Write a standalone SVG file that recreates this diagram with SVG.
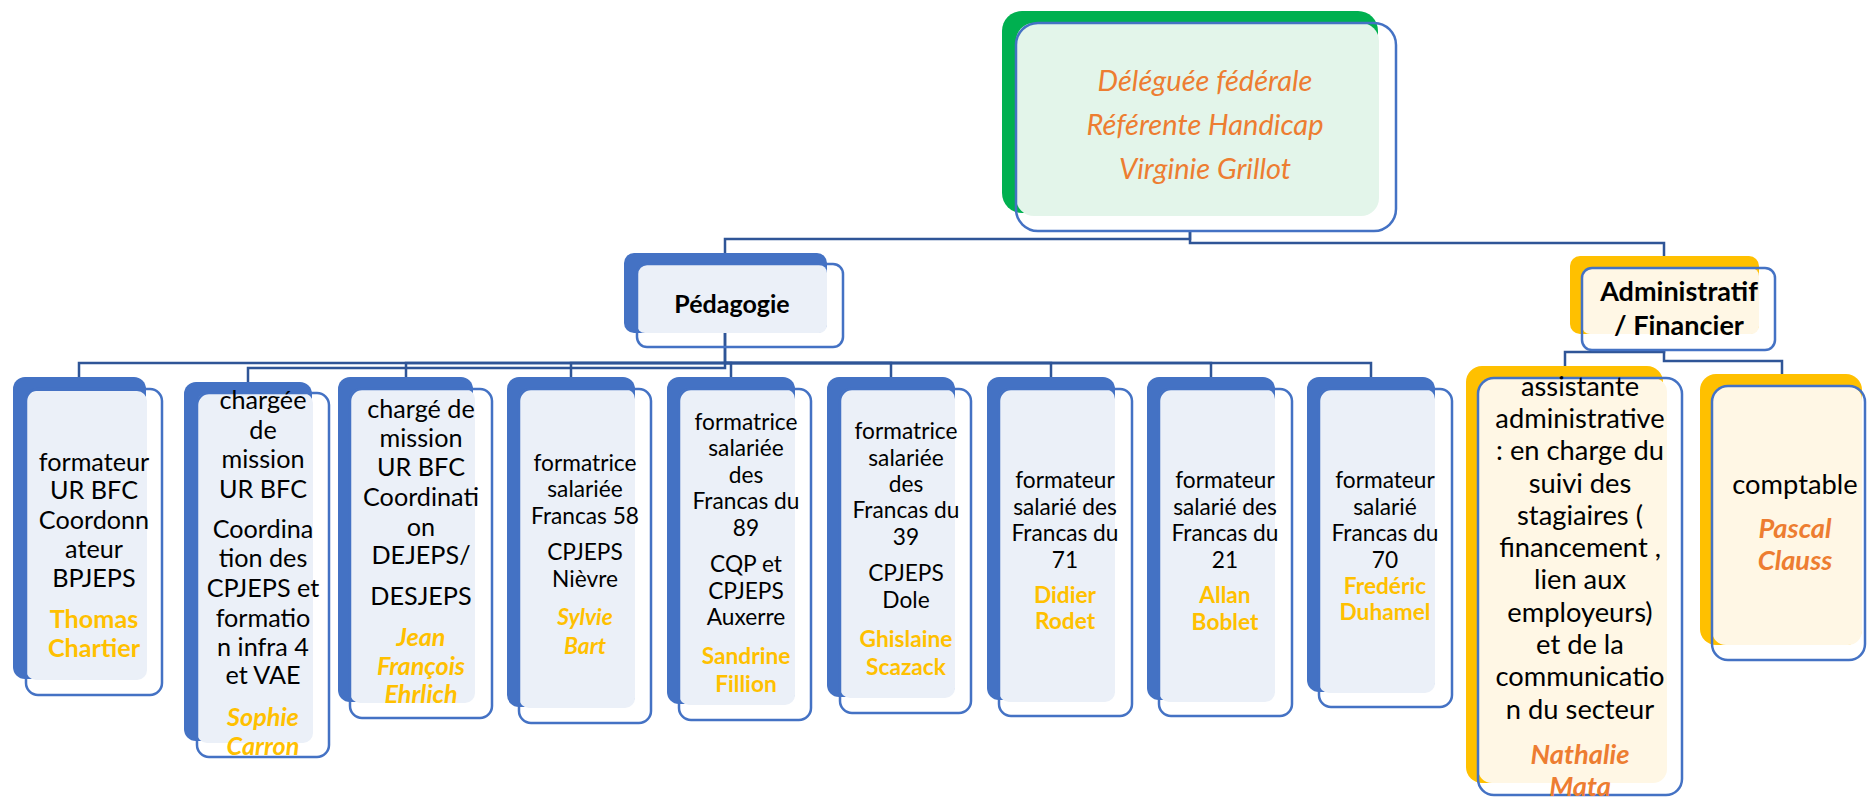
<svg xmlns="http://www.w3.org/2000/svg" width="1867" height="797" viewBox="0 0 1867 797">
<style>
.bl{fill:#4472C4}
.gr{fill:#00B050}
.ye{fill:#FFC000}
.fb{fill:#EBF0F8}
.fg{fill:#E3F5EA}
.fy{fill:#FFF7E5}
.ol{fill:none;stroke:#4472C4;stroke-width:2.5}
.cn{fill:none;stroke:#2F5597;stroke-width:2.5}
text{font-family:Lato,"Noto Sans",sans-serif;text-anchor:middle}
.t{fill:#000;font-size:25.2px}
.s{fill:#000;font-size:22.7px}
.a{fill:#000;font-size:27.3px}
.h{fill:#000;font-size:25px;font-weight:bold}
.h2{fill:#000;font-size:27px;font-weight:bold}
.top{fill:#ED7D31;font-size:29px;font-style:italic}
.ny{fill:#FFC000;font-weight:bold}
.nyi{fill:#FFC000;font-weight:bold;font-style:italic}
.no{fill:#ED7D31;font-weight:bold;font-style:italic}
</style>
<g id="connectors">
<path class="cn" d="M1190,231 V239 H725 V253"/>
<path class="cn" d="M1190,231 V243 H1664 V256"/>
<path class="cn" d="M725,333 V363 H79 V377"/>
<path class="cn" d="M725,333 V368 H248 V382"/>
<path class="cn" d="M725,363 H406 V377"/>
<path class="cn" d="M725,363 H571 V377"/>
<path class="cn" d="M725,363 H731 V377"/>
<path class="cn" d="M725,363 H891 V377"/>
<path class="cn" d="M725,363 H1051 V377"/>
<path class="cn" d="M725,363 H1211 V377"/>
<path class="cn" d="M725,363 H1371 V377"/>
<path class="cn" d="M1664,350 V352 H1565 V366"/>
<path class="cn" d="M1664,350 V361 H1782 V374"/>
</g>
<g id="n-top">
<rect class="gr" x="1002" y="11" width="376" height="202" rx="20"/>
<rect class="fg" x="1016" y="23" width="363" height="193" rx="18"/>
<rect class="ol" x="1016" y="23" width="380" height="208" rx="22"/>
<text class="top"><tspan x="1205" y="91">Déléguée fédérale</tspan><tspan x="1205" y="135">Référente Handicap</tspan><tspan x="1205" y="179">Virginie Grillot</tspan></text>
</g>
<g id="n-pedagogie">
<rect class="bl" x="624" y="253" width="203" height="80" rx="10"/>
<rect class="fb" x="637" y="265" width="190" height="68" rx="8"/>
<rect class="ol" x="637" y="264" width="206" height="83" rx="10"/>
<text class="h"><tspan x="732" y="313">Pédagogie</tspan></text>
</g>
<g id="n-admin">
<rect class="ye" x="1570" y="256" width="189" height="78" rx="10"/>
<rect class="fy" x="1582" y="268" width="177" height="66" rx="8"/>
<rect class="ol" x="1582" y="268" width="193" height="82" rx="10"/>
<text class="h2"><tspan x="1679" y="301">Administratif</tspan><tspan x="1679" y="335">/ Financier</tspan></text>
</g>
<g id="n-thomas">
<rect class="bl" x="13" y="377" width="133" height="302" rx="12"/>
<rect class="fb" x="26" y="391" width="121" height="289" rx="10"/>
<rect class="ol" x="26" y="389" width="136" height="306" rx="12"/>
<text class="t"><tspan x="94" y="471">formateur</tspan><tspan x="94" y="499">UR BFC</tspan><tspan x="94" y="529">Coordonn</tspan><tspan x="94" y="558">ateur</tspan><tspan x="94" y="587">BPJEPS</tspan><tspan class="ny" x="94" y="628">Thomas</tspan><tspan class="ny" x="94" y="657">Chartier</tspan></text>
</g>
<g id="n-sophie">
<rect class="bl" x="184" y="382" width="128" height="359" rx="12"/>
<rect class="fb" x="197" y="393" width="116" height="350" rx="10"/>
<rect class="ol" x="197" y="393" width="132" height="364" rx="12"/>
<text class="t"><tspan x="263" y="409">chargée</tspan><tspan x="263" y="439">de</tspan><tspan x="263" y="468">mission</tspan><tspan x="263" y="498">UR BFC</tspan><tspan x="263" y="538">Coordina</tspan><tspan x="263" y="567">tion des</tspan><tspan x="263" y="597">CPJEPS et</tspan><tspan x="263" y="627">formatio</tspan><tspan x="263" y="656">n infra 4</tspan><tspan x="263" y="684">et VAE</tspan><tspan class="nyi" x="263" y="726">Sophie</tspan><tspan class="nyi" x="263" y="755">Carron</tspan></text>
</g>
<g id="n-jean">
<rect class="bl" x="338" y="377" width="135" height="325" rx="12"/>
<rect class="fb" x="350" y="389" width="125" height="314" rx="10"/>
<rect class="ol" x="350" y="389" width="142" height="329" rx="12"/>
<text class="t"><tspan x="421" y="418">chargé de</tspan><tspan x="421" y="447">mission</tspan><tspan x="421" y="476">UR BFC</tspan><tspan x="421" y="506">Coordinati</tspan><tspan x="421" y="536">on</tspan><tspan x="421" y="564">DEJEPS/</tspan><tspan x="421" y="605">DESJEPS</tspan><tspan class="nyi" x="421" y="646">Jean</tspan><tspan class="nyi" x="421" y="675">François</tspan><tspan class="nyi" x="421" y="703">Ehrlich</tspan></text>
</g>
<g id="n-sylvie">
<rect class="bl" x="507" y="377" width="128" height="330" rx="12"/>
<rect class="fb" x="519" y="389" width="116" height="319" rx="10"/>
<rect class="ol" x="519" y="389" width="132" height="334" rx="12"/>
<text class="s"><tspan x="585" y="471">formatrice</tspan><tspan x="585" y="497">salariée</tspan><tspan x="585" y="524">Francas 58</tspan><tspan x="585" y="560">CPJEPS</tspan><tspan x="585" y="587">Nièvre</tspan><tspan class="nyi" x="585" y="625">Sylvie</tspan><tspan class="nyi" x="585" y="654">Bart</tspan></text>
</g>
<g id="n-sandrine">
<rect class="bl" x="667" y="377" width="128" height="327" rx="12"/>
<rect class="fb" x="679" y="389" width="116" height="316" rx="10"/>
<rect class="ol" x="679" y="389" width="132" height="331" rx="12"/>
<text class="s"><tspan x="746" y="430">formatrice</tspan><tspan x="746" y="456">salariée</tspan><tspan x="746" y="483">des</tspan><tspan x="746" y="509">Francas du</tspan><tspan x="746" y="536">89</tspan><tspan x="746" y="572">CQP et</tspan><tspan x="746" y="599">CPJEPS</tspan><tspan x="746" y="625">Auxerre</tspan><tspan class="ny" x="746" y="664">Sandrine</tspan><tspan class="ny" x="746" y="692">Fillion</tspan></text>
</g>
<g id="n-ghislaine">
<rect class="bl" x="827" y="377" width="128" height="320" rx="12"/>
<rect class="fb" x="840" y="389" width="115" height="309" rx="10"/>
<rect class="ol" x="840" y="389" width="131" height="324" rx="12"/>
<text class="s"><tspan x="906" y="439">formatrice</tspan><tspan x="906" y="466">salariée</tspan><tspan x="906" y="492">des</tspan><tspan x="906" y="518">Francas du</tspan><tspan x="906" y="545">39</tspan><tspan x="906" y="581">CPJEPS</tspan><tspan x="906" y="608">Dole</tspan><tspan class="ny" x="906" y="647">Ghislaine</tspan><tspan class="ny" x="906" y="675">Scazack</tspan></text>
</g>
<g id="n-didier">
<rect class="bl" x="987" y="377" width="128" height="323" rx="12"/>
<rect class="fb" x="999" y="389" width="116" height="313" rx="10"/>
<rect class="ol" x="999" y="389" width="133" height="327" rx="12"/>
<text class="s"><tspan x="1065" y="488">formateur</tspan><tspan x="1065" y="515">salarié des</tspan><tspan x="1065" y="541">Francas du</tspan><tspan x="1065" y="568">71</tspan><tspan class="ny" x="1065" y="603">Didier</tspan><tspan class="ny" x="1065" y="629">Rodet</tspan></text>
</g>
<g id="n-allan">
<rect class="bl" x="1147" y="377" width="128" height="323" rx="12"/>
<rect class="fb" x="1159" y="389" width="116" height="313" rx="10"/>
<rect class="ol" x="1159" y="389" width="133" height="327" rx="12"/>
<text class="s"><tspan x="1225" y="488">formateur</tspan><tspan x="1225" y="515">salarié des</tspan><tspan x="1225" y="541">Francas du</tspan><tspan x="1225" y="568">21</tspan><tspan class="ny" x="1225" y="603">Allan</tspan><tspan class="ny" x="1225" y="630">Boblet</tspan></text>
</g>
<g id="n-frederic">
<rect class="bl" x="1307" y="377" width="128" height="315" rx="12"/>
<rect class="fb" x="1319" y="389" width="116" height="304" rx="10"/>
<rect class="ol" x="1319" y="389" width="133" height="318" rx="12"/>
<text class="s"><tspan x="1385" y="488">formateur</tspan><tspan x="1385" y="515">salarié</tspan><tspan x="1385" y="541">Francas du</tspan><tspan x="1385" y="568">70</tspan><tspan class="ny" x="1385" y="594">Fredéric</tspan><tspan class="ny" x="1385" y="620">Duhamel</tspan></text>
</g>
<g id="n-nathalie">
<rect class="ye" x="1466" y="366" width="197" height="417" rx="16"/>
<rect class="fy" x="1478" y="378" width="189" height="405" rx="14"/>
<rect class="ol" x="1478" y="378" width="204" height="417" rx="16"/>
<text class="a"><tspan x="1580" y="396">assistante</tspan><tspan x="1580" y="428">administrative</tspan><tspan x="1580" y="460">: en charge du</tspan><tspan x="1580" y="493">suivi des</tspan><tspan x="1580" y="525">stagiaires (</tspan><tspan x="1580" y="557">financement ,</tspan><tspan x="1580" y="589">lien aux</tspan><tspan x="1580" y="622">employeurs)</tspan><tspan x="1580" y="654">et de la</tspan><tspan x="1580" y="686">communicatio</tspan><tspan x="1580" y="719">n du secteur</tspan><tspan class="no" x="1580" y="764">Nathalie</tspan><tspan class="no" x="1580" y="796">Mata</tspan></text>
</g>
<g id="n-pascal">
<rect class="ye" x="1700" y="374" width="162" height="271" rx="16"/>
<rect class="fy" x="1712" y="386" width="150" height="259" rx="14"/>
<rect class="ol" x="1712" y="386" width="153" height="274" rx="16"/>
<text class="a"><tspan x="1795" y="494">comptable</tspan><tspan class="no" x="1795" y="538">Pascal</tspan><tspan class="no" x="1795" y="570">Clauss</tspan></text>
</g>
</svg>
